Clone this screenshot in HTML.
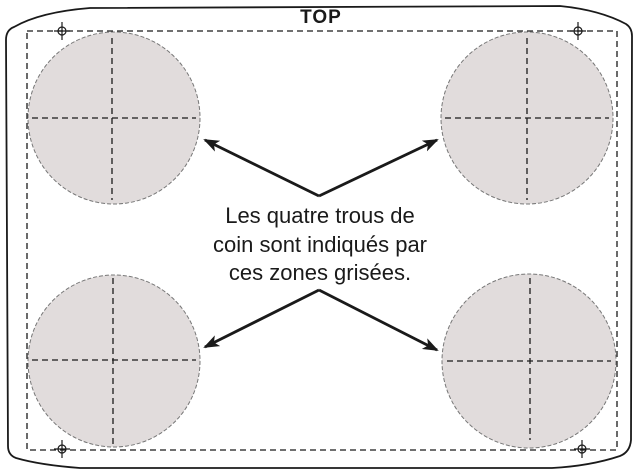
<!DOCTYPE html>
<html><head><style>body{margin:0;background:#fff}svg{display:block}</style></head><body>
<svg width="642" height="470" viewBox="0 0 642 470" xmlns="http://www.w3.org/2000/svg">
<defs><marker id="a" markerWidth="18" markerHeight="12" refX="14" refY="6" orient="auto" markerUnits="userSpaceOnUse"><path d="M0,0 L16,6 L0,12 L4,6 z" fill="#1a1a1a"/></marker></defs>
<path d="M14,27 Q40,12 90,8 L560,6 Q600,10 626,24 Q632,28 632,36 L631,440 Q630,452 620,456 Q590,466 552,468 L80,468 Q40,465 16,458 Q8,455 8,446 L6,40 Q6,30 14,27 Z" fill="none" stroke="#1a1a1a" stroke-width="1.8"/>
<rect x="27" y="31" width="590" height="419" fill="none" stroke="#1a1a1a" stroke-width="1.3" stroke-dasharray="6,4"/>
<g fill="#e1dcdc" stroke="#777" stroke-width="1" stroke-dasharray="4,2">
<circle cx="114" cy="118" r="86"/><circle cx="527" cy="118" r="86"/>
<circle cx="114" cy="361" r="86"/><circle cx="529" cy="361" r="87"/>
</g>
<g stroke="#1a1a1a" stroke-width="1.3" stroke-dasharray="6,4">
<path d="M112,38V200M32,118H196"/><path d="M527,38V200M445,118H609"/>
<path d="M113,278V446M32,360H196"/><path d="M530,278V440M447,361H611"/>
</g>
<g stroke="#1a1a1a" stroke-width="1.2" fill="none">
<circle cx="62" cy="31" r="4"/><path d="M54,31H70M62,22V40"/>
<circle cx="578" cy="31" r="4"/><path d="M570,31H586M578,22V40"/>
<circle cx="62" cy="449" r="4"/><path d="M54,449H70M62,440V458"/>
<circle cx="582" cy="449" r="4"/><path d="M574,449H590M582,440V458"/>
</g>
<g stroke="#1a1a1a" stroke-width="2.8" fill="none">
<path d="M319,196L205,140" marker-end="url(#a)"/><path d="M319,196L437,140" marker-end="url(#a)"/>
<path d="M319,290L205,347" marker-end="url(#a)"/><path d="M319,290L437,350" marker-end="url(#a)"/>
</g>
<text x="321" y="23" text-anchor="middle" font-family="Liberation Sans,sans-serif" font-weight="bold" font-size="19" letter-spacing="1" fill="#1a1a1a">TOP</text>
<g font-family="Liberation Sans,sans-serif" font-size="22" fill="#1a1a1a" text-anchor="middle">
<text x="320" y="223">Les quatre trous de</text>
<text x="320" y="252">coin sont indiqués par</text>
<text x="320" y="280">ces zones grisées.</text>
</g>
</svg>
</body></html>
